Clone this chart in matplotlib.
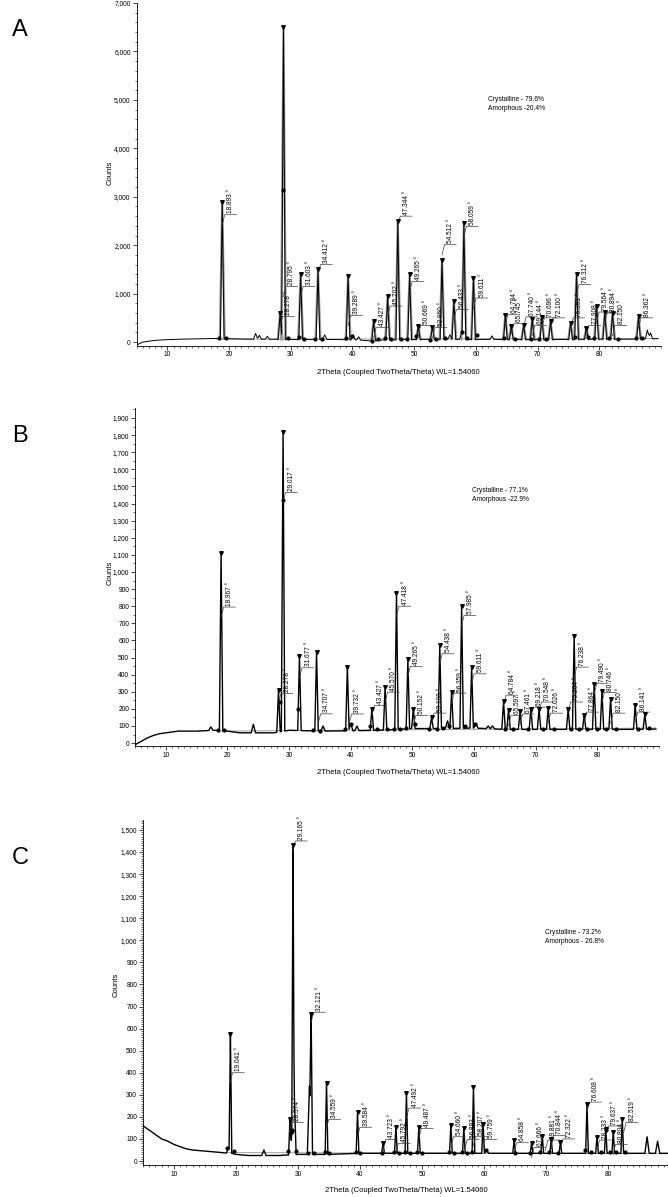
import numpy as np
import matplotlib
matplotlib.use("Agg")
import matplotlib.pyplot as plt
from matplotlib.ticker import MultipleLocator, FuncFormatter

plt.rcParams['font.family'] = ['Liberation Sans', 'DejaVu Sans']

W, H = 668, 1197

# ---------------- Panel A data ----------------
A_base_x = [5, 6, 7, 8, 9, 10, 12, 14, 16, 18, 20, 22, 24, 26, 28, 30, 35, 40, 43, 45, 50, 55, 60, 65, 70, 75, 80, 85, 89.5]
A_base_y = [-60, 0, 20, 35, 45, 50, 60, 65, 70, 75, 70, 65, 60, 60, 60, 55, 55, 50, 25, 45, 55, 60, 55, 55, 50, 55, 60, 60, 70]
A_peak_x = [18.893, 28.278, 28.82, 31.603, 34.412, 39.289, 43.427, 45.702, 47.344, 49.265, 50.669, 52.960,
            54.512, 56.433, 58.059, 59.611, 64.784, 65.745, 67.740, 69.144, 70.696, 72.100, 75.351, 76.312,
            77.908, 79.564, 80.894, 82.150, 86.362]
A_peak_h = [2900, 600, 6500, 1400, 1500, 1370, 430, 950, 2500, 1400, 330, 320,
            1700, 850, 2450, 1330, 550, 330, 350, 480, 510, 430, 400, 1400,
            300, 750, 620, 600, 530]
A_bump_x = [24.3, 24.9, 26.2, 35.5, 40.1, 41.0, 55.8, 57.7, 62.6, 87.8, 88.3]
A_bump_h = [180, 140, 120, 150, 150, 110, 150, 200, 130, 250, 190]
A_lab_v = [18.893, 28.278, 28.795, 31.603, 34.412, 39.289, 43.427, 45.702, 47.344, 49.265, 50.669, 52.960,
           54.512, 56.433, 58.059, 59.611, 64.784, 65.745, 67.740, 69.144, 70.696, 72.100, 75.351, 76.312,
           77.908, 79.564, 80.894, 82.150, 86.362]
A_lab_y = [2630, 530, 1150, 1150, 1600, 550, 300, 745, 2600, 1250, 345, 300,
           2010, 670, 2390, 910, 565, 380, 520, 345, 500, 500, 500, 1190,
           345, 620, 600, 345, 500]
A_dot_x = [18.4, 19.5, 28.82, 29.6, 31.3, 32.2, 34.0, 35.0, 39.0, 40.0, 43.2, 44.2, 45.3, 46.3, 47.9, 48.8,
           50.3, 52.6, 53.6, 55.0, 57.7, 58.6, 60.2, 64.6, 66.3, 68.9, 70.2, 71.3, 76.0, 78.2, 79.2, 81.5, 83.0, 86.0, 87.0]
A_dot_y = [90, 80, 3150, 80, 100, 60, 70, 60, 80, 120, 20, 60, 80, 60, 60, 70,
           120, 50, 60, 80, 200, 80, 140, 80, 60, 60, 60, 60, 100, 100, 80, 80, 70, 80, 80]
A_bg_x = [18.0, 89.5]
A_bg_y = [60, 75]

# ---------------- Panel B data ----------------
B_base_x = [5, 6, 7, 8, 9, 10, 12, 15, 18, 20, 22, 25, 27.5, 30, 35, 40, 45, 50, 55, 60, 65, 70, 75, 80, 85, 89.5]
B_base_y = [-10, 10, 30, 45, 55, 60, 70, 70, 75, 70, 60, 60, 60, 75, 70, 72, 75, 85, 85, 88, 80, 80, 80, 80, 80, 82]
B_peak_x = [18.967, 28.278, 29.017, 31.677, 34.45, 39.45, 43.427, 45.570, 47.418, 49.265, 50.152, 53.108,
            54.438, 56.359, 57.985, 59.611, 64.784, 65.597, 67.461, 69.218, 70.548, 72.026, 75.264, 76.238,
            77.864, 79.490, 80.746, 82.150, 86.141, 87.7]
B_peak_h = [1110, 310, 1820, 510, 530, 445, 200, 330, 880, 490, 200, 150,
            575, 300, 800, 445, 245, 195, 185, 200, 200, 205, 200, 625,
            165, 345, 305, 260, 225, 170]
B_bump_x = [17.3, 24.2, 35.5, 40.0, 41.0, 55.7, 60.3, 62.3, 63.0]
B_bump_h = [95, 110, 100, 115, 100, 130, 115, 100, 100]
B_lab_v = [18.967, 28.278, 29.017, 31.677, 34.707, 39.732, 43.427, 45.570, 47.418, 49.265, 50.152, 53.108,
           54.438, 56.359, 57.985, 59.611, 64.784, 65.597, 67.461, 69.218, 70.548, 72.026, 75.264, 76.238,
           77.864, 79.490, 80.746, 82.150, 86.141]
B_lab_y = [795, 290, 1465, 440, 171, 170, 220, 298, 800, 448, 162, 175,
           522, 292, 746, 405, 280, 162, 170, 210, 240, 175, 240, 444,
           181, 347, 296, 175, 181]
B_dot_x = [18.5, 19.4, 28.5, 29.017, 31.5, 33.9, 35.0, 39.0, 40.1, 43.2, 44.3, 45.9, 47.0, 48.0, 49.0, 50.5,
           52.7, 54.0, 55.0, 56.0, 58.5, 60.2, 65.0, 66.3, 68.8, 71.2, 73.0, 75.8, 77.0, 78.4, 80.0, 81.4, 83.0, 86.6, 88.3]
B_dot_y = [75, 75, 240, 1420, 200, 75, 70, 80, 110, 100, 80, 80, 80, 80, 90, 110,
           85, 85, 90, 100, 100, 110, 80, 80, 80, 80, 80, 85, 85, 85, 80, 80, 80, 80, 90]
B_bg_x = [19.0, 89.5]
B_bg_y = [70, 88]

# ---------------- Panel C data ----------------
C_base_x = [5, 6, 7, 8, 9, 10, 11, 12, 13, 15, 17, 19, 20, 22, 25, 27, 30, 35, 40, 45, 50, 55, 60, 65, 70, 75, 80, 85, 90]
C_base_y = [160, 140, 120, 100, 90, 75, 65, 55, 50, 45, 40, 35, 30, 25, 25, 25, 30, 30, 35, 35, 35, 35, 35, 35, 35, 35, 35, 35, 35]
C_peak_x = [19.10, 28.70, 29.00, 29.20, 32.121, 34.60, 39.60, 43.72, 45.79, 47.49, 49.49, 54.66,
            56.75, 58.30, 59.85, 64.86, 67.67, 69.40, 70.84, 72.32, 76.61, 78.23, 79.64, 80.85, 82.30]
C_peak_h = [575, 190, 130, 1430, 665, 355, 220, 80, 155, 310, 155, 165,
            150, 335, 170, 95, 80, 115, 100, 85, 260, 110, 145, 130, 190]
C_bump_x = [18.8, 24.5, 29.35, 31.85, 60.4, 86.3, 88.0]
C_bump_h = [60, 50, 350, 340, 50, 110, 90]
C_lab_v = [19.041, 28.574, 29.165, 32.121, 34.559, 39.584, 43.723, 45.792, 47.492, 49.487, 54.660,
           56.893, 58.207, 59.759, 64.858, 67.666, 69.881, 70.844, 72.322, 76.608, 78.233, 79.637, 80.804, 82.519]
C_lab_y = [400, 175, 1450, 674, 189, 153, 98, 80, 240, 148, 110,
           98, 110, 98, 83, 62, 95, 115, 100, 267, 95, 159, 75, 175]
C_dot_x = [18.6, 19.6, 28.4, 29.0, 29.7, 31.6, 32.5, 34.3, 35.0, 39.3, 40.0, 43.5, 45.5, 46.3, 47.2, 48.0,
           49.2, 50.0, 54.4, 55.2, 56.5, 57.2, 58.0, 60.3, 65.0, 67.4, 69.1, 70.5, 72.0, 76.3, 77.2, 78.9, 79.7,
           80.3, 81.3, 82.8]
C_dot_y = [60, 45, 45, 140, 45, 35, 35, 40, 35, 40, 35, 35, 40, 35, 40, 35,
           40, 35, 40, 35, 40, 35, 40, 50, 35, 35, 40, 40, 35, 50, 40, 40, 140,
           40, 40, 40]
C_bg_x = [18.5, 90]
C_bg_y = [38, 33]

CRYST = ["Crystalline - 79.6%\nAmorphous -20.4%",
         "Crystalline - 77.1%\nAmorphous -22.9%",
         "Crystalline - 73.2%\nAmorphous - 26.8%"]
XTITLE = "2Theta (Coupled TwoTheta/Theta) WL=1.54060"

fig = plt.figure(figsize=(W / 100, H / 100), dpi=100)


def rect(left, right, top, bottom):
    return [left / W, 1 - bottom / H, (right - left) / W, (bottom - top) / H]


def build_curve(bx, by, px, ph, qx, qh, w=0.28, wq=0.35):
    bx = np.asarray(bx, float); by = np.asarray(by, float)
    cand = list(bx)
    tri = []
    for x, h in zip(px, ph):
        tri.append((x, h, w))
    for x, h in zip(qx, qh):
        tri.append((x, h, wq))
    for x, h, ww in tri:
        cand += [x - ww, x, x + ww]
    xs = np.unique(np.clip(np.array(cand), bx.min(), bx.max()))
    ys = np.interp(xs, bx, by)
    for x, h, ww in tri:
        b = np.interp(x, bx, by)
        t = np.where(np.abs(xs - x) <= ww, b + (h - b) * (1 - np.abs(xs - x) / ww), -1e9)
        ys = np.maximum(ys, t)
    return xs, ys


def panel(r, ylim, ymaj, ymin_, bx, by, px, ph, qx, qh, lv, ly, dx, dy, gx, gy,
          grey_peaks, peak_w, lw):
    ax = fig.add_axes(r)
    ax.set_xlim(5, 90)
    ax.set_ylim(*ylim)
    for s in ['top', 'right']:
        ax.spines[s].set_visible(False)
    for s in ['left', 'bottom']:
        ax.spines[s].set_linewidth(0.6)
    ax.xaxis.set_major_locator(MultipleLocator(10))
    ax.xaxis.set_minor_locator(MultipleLocator(1))
    ax.yaxis.set_major_locator(MultipleLocator(ymaj))
    ax.yaxis.set_minor_locator(MultipleLocator(ymin_))
    ax.yaxis.set_major_formatter(FuncFormatter(lambda v, p: f"{int(round(v)):,}"))
    ax.tick_params(which='major', length=3, width=0.5, labelsize=4.8, pad=1.2)
    ax.tick_params(which='minor', length=1.6, width=0.4)
    ax.set_xticks([10, 20, 30, 40, 50, 60, 70, 80])
    yr = ylim[1] - ylim[0]
    ax.plot(gx, gy, color='0.55', lw=0.6, zorder=1)
    xs, ys = build_curve(bx, by, px, ph, qx, qh, w=peak_w)
    if grey_peaks:
        for x, h in zip(px, ph):
            b = np.interp(x, bx, by)
            ax.plot([x - peak_w * 1.3, x, x + peak_w * 1.3], [b, h, b], color='0.6', lw=1.6, zorder=1.5)
    ax.plot(xs, ys, color='black', lw=lw, zorder=2)
    ax.plot(px, ph, 'v', color='black', ms=2.6, zorder=3, clip_on=False)
    ax.plot(dx, dy, 'o', color='black', ms=2.0, zorder=3)
    d = 0.03 * yr
    for v, s in zip(lv, ly):
        ax.plot([v, v + 0.4, v + 2.3], [s - d, s, s], color='0.25', lw=0.5, zorder=2.5)
        ax.text(v + 1.4, s + 0.004 * yr, f"{v:.3f} °", rotation=90, ha='center', va='bottom',
                fontsize=4.7, zorder=4)
    return ax


panel(rect(136.5, 661, 3, 345.5), (-70, 7000), 1000, 200, A_base_x, A_base_y, A_peak_x, A_peak_h,
      A_bump_x, A_bump_h, A_lab_v, A_lab_y, A_dot_x, A_dot_y, A_bg_x, A_bg_y, True, 0.3, 0.7)
panel(rect(135, 659, 407.7, 746), (-17, 1960), 100, 50, B_base_x, B_base_y, B_peak_x, B_peak_h,
      B_bump_x, B_bump_h, B_lab_v, B_lab_y, B_dot_x, B_dot_y, B_bg_x, B_bg_y, False, 0.28, 1.0)
panel(rect(143, 670, 820, 1165), (-18, 1545), 100, 10, C_base_x, C_base_y, C_peak_x, C_peak_h,
      C_bump_x, C_bump_h, C_lab_v, C_lab_y, C_dot_x, C_dot_y, C_bg_x, C_bg_y, False, 0.22, 1.0)


def ftext(x, y, s, **kw):
    fig.text(x / W, 1 - y / H, s, **kw)


for letter, yy in zip(["A", "B", "C"], [30, 436, 858]):
    ftext(20, yy, letter, fontsize=17, ha='center', va='center')
for yy, xx in zip([173, 573, 985], [110, 110, 116]):
    ftext(xx, yy, "Counts", rotation=90, fontsize=5.5, ha='center', va='center')
for yy, xx in zip([372, 773, 1191], [398, 398, 406]):
    ftext(xx, yy, XTITLE, fontsize=5.5, ha='center', va='center')
for txt, (xx, yy) in zip(CRYST, [(488, 104), (472, 495), (545, 937)]):
    ftext(xx, yy, txt, fontsize=4.8, ha='left', va='center', linespacing=1.25)

fig.savefig("out.png", dpi=100)
